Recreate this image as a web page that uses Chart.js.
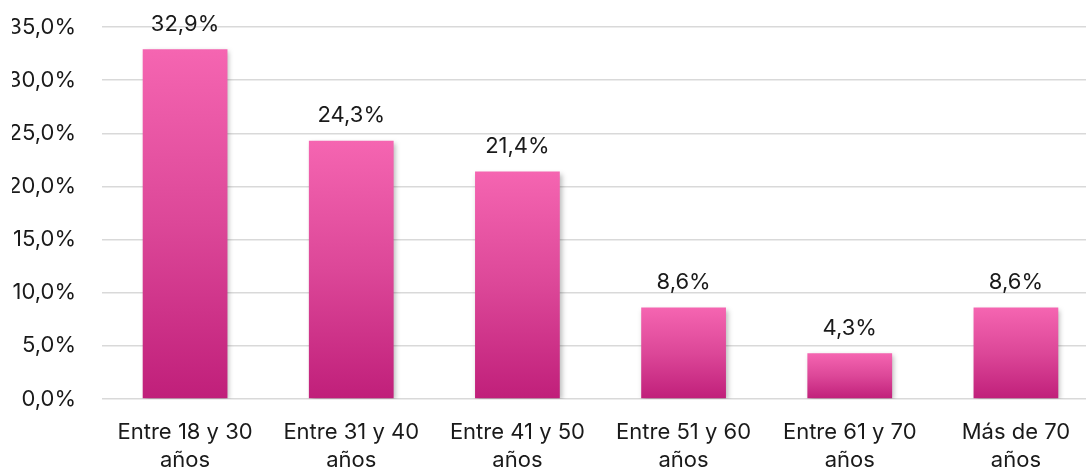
<!DOCTYPE html>
<html>
<head>
<meta charset="utf-8">
<script src="https://cdn.jsdelivr.net/npm/chart.js@4.4.0/dist/chart.umd.min.js"></script>
<style>
  html, body { margin: 0; padding: 0; background: #fff; overflow: hidden; }
  /* the plot area runs slightly past the right edge of the window, as in the original */
  #wrap { width: 1099px; height: 469px; position: relative; }
</style>
</head>
<body>
<div id="wrap"><canvas id="chart"></canvas></div>
<script>
// Age groups and share of respondents (%)
const categories = [
    ['Entre 18 y 30', 'años'],
    ['Entre 31 y 40', 'años'],
    ['Entre 41 y 50', 'años'],
    ['Entre 51 y 60', 'años'],
    ['Entre 61 y 70', 'años'],
    ['Más de 70', 'años']
];
const values = [32.9, 24.3, 21.4, 8.6, 4.3, 8.6];
const yTicks = [0, 5, 10, 15, 20, 25, 30, 35];

const FONT = 'Inter, "Liberation Sans", sans-serif';
const FONT_SIZE = 22;

function pct(v) {
    return v.toFixed(1).replace('.', ',') + '%';
}

// per-bar vertical gradient, light pink on top to deep magenta at the base
function barGradient(context) {
    const chart = context.chart;
    const yScale = chart.scales.y;
    if (!chart.chartArea || !yScale || context.dataIndex === undefined) return '#e04a9a';
    const top = yScale.getPixelForValue(context.raw);
    const base = yScale.getPixelForValue(0);
    const g = chart.ctx.createLinearGradient(0, top, 0, base);
    g.addColorStop(0, '#f565b1');
    g.addColorStop(0.5, '#dc4798');
    g.addColorStop(1, '#c01f7a');
    return g;
}

// soft drop shadow behind the bars
const barShadow = {
    id: 'barShadow',
    beforeDatasetsDraw(chart) {
        const ctx = chart.ctx;
        ctx.save();
        ctx.shadowColor = 'rgba(0, 0, 0, 0.28)';
        ctx.shadowBlur = 5;
        ctx.shadowOffsetX = 2;
        ctx.shadowOffsetY = 2;
    },
    afterDatasetsDraw(chart) {
        chart.ctx.restore();
    }
};

// value labels above each bar
const valueLabels = {
    id: 'valueLabels',
    afterDatasetsDraw(chart) {
        const ctx = chart.ctx;
        const meta = chart.getDatasetMeta(0);
        ctx.save();
        ctx.font = FONT_SIZE + 'px ' + FONT;
        ctx.fillStyle = '#1a1a1a';
        ctx.textAlign = 'center';
        ctx.textBaseline = 'middle';
        meta.data.forEach((bar, i) => {
            ctx.fillText(pct(values[i]), bar.x, bar.y - 25);
        });
        ctx.restore();
    }
};

new Chart(document.getElementById('chart'), {
    type: 'bar',
    data: {
        labels: categories,
        datasets: [{
            data: values,
            backgroundColor: barGradient,
            borderWidth: 0,
            categoryPercentage: 1,
            barPercentage: 0.51
        }]
    },
    options: {
        responsive: true,
        maintainAspectRatio: false,
        animation: false,
        layout: { padding: { top: 27, right: 0, left: 12, bottom: 0 } },
        plugins: {
            legend: { display: false },
            tooltip: { enabled: false }
        },
        scales: {
            x: {
                grid: { display: false },
                border: { display: false },
                afterFit(axis) { axis.height = 70; },
                ticks: {
                    color: '#1a1a1a',
                    font: { family: FONT, size: FONT_SIZE, lineHeight: 1.25 },
                    maxRotation: 0,
                    autoSkip: false,
                    padding: 12
                }
            },
            y: {
                min: 0,
                max: 35,
                afterBuildTicks(axis) {
                    axis.ticks = yTicks.map(v => ({ value: v }));
                },
                afterFit(axis) {
                    axis.width = 90;
                    axis.paddingTop = 0;
                    axis.paddingBottom = 0;
                },
                grid: { color: '#d9d9d9', lineWidth: 1.5, drawTicks: false },
                border: { display: false },
                ticks: {
                    color: '#1a1a1a',
                    font: { family: FONT, size: FONT_SIZE },
                    padding: 26,
                    callback: v => pct(v)
                }
            }
        }
    },
    plugins: [barShadow, valueLabels]
});
</script>
</body>
</html>
